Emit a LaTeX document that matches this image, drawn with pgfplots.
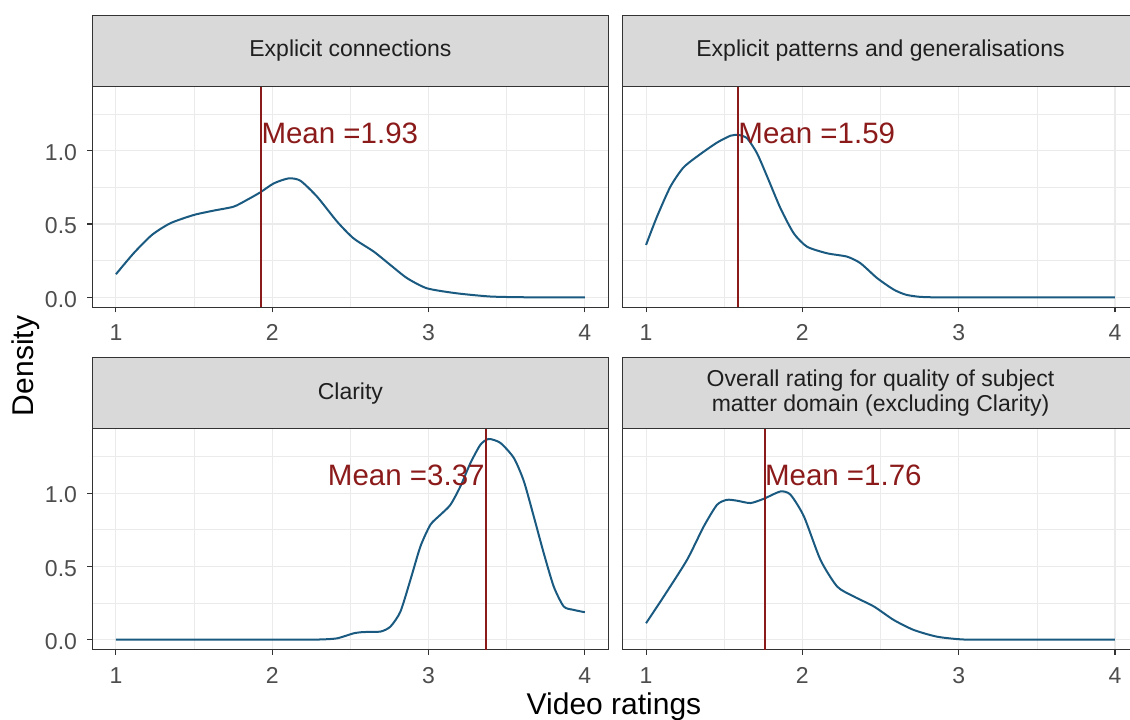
\documentclass[border=0pt]{standalone}
\usepackage{fontspec}
\setmainfont{Liberation Sans}
\usepackage{pgfplots}
\pgfplotsset{compat=1.18}

\definecolor{curve}{HTML}{1A5A80}
\definecolor{meanred}{HTML}{8B1A1A}
\definecolor{gridc}{HTML}{EBEBEB}
\definecolor{framec}{HTML}{333333}
\definecolor{tickc}{HTML}{4D4D4D}
\definecolor{stripc}{HTML}{D9D9D9}

\pgfplotsset{
  facet/.style={
    scale only axis, width=515.8pt, height=220.9pt,
    xmin=0.85, xmax=4.15, ymin=-0.0685, ymax=1.4385,
    xtick={1,2,3,4}, minor xtick={1.5,2.5,3.5},
    ytick={0,0.5,1}, minor ytick={0.25,0.75,1.25},
    grid=both,
    major grid style={gridc, line width=1.1pt},
    minor grid style={gridc, line width=0.55pt},
    axis line style={framec, line width=1.3pt},
    tick align=outside, xtick pos=lower, ytick pos=left,
    major tick length=5pt, minor tick length=0pt,
    tick style={framec, line width=1.1pt},
    /pgf/number format/assume math mode=true,
    ticklabel style={font=\fontsize{23pt}{27pt}\selectfont, text=tickc},
    xticklabel style={yshift=-9pt},
    yticklabel style={xshift=-7pt, yshift=-2pt, /pgf/number format/fixed, /pgf/number format/fixed zerofill, /pgf/number format/precision=1},
  },
  noy/.style={yticklabels={}, ytick style={draw=none}},
}
\tikzset{
  dens/.style={curve, line width=2pt, smooth, tension=0.4},
  meanline/.style={meanred, line width=2pt},
  meanlabel/.style={text=meanred, inner sep=0pt, font=\fontsize{29.5pt}{30pt}\selectfont},
}

\newcommand{\strip}[4]{%
  \draw[framec, line width=1.3pt, fill=stripc] (#1pt,#2pt) rectangle (#3pt,#2pt+71pt);
  \node[align=center, font=\fontsize{23pt}{25pt}\selectfont, text=black!88]
    at ({(#1+#3)/2*1pt},#2pt+35.5pt) {#4};}

\begin{document}
\begin{tikzpicture}
\useasboundingbox (0,0) rectangle (1130pt,720pt);

% top left
\begin{axis}[facet, at={(92.5pt,412.7pt)}, anchor=south west]
\addplot[dens] coordinates {
(1.000,0.157)(1.113,0.300)(1.230,0.425)(1.348,0.505)(1.497,0.561)(1.625,0.591)
(1.753,0.618)(1.838,0.664)(1.924,0.716)(2.010,0.777)(2.105,0.811)(2.180,0.795)
(2.287,0.686)(2.415,0.516)(2.520,0.402)(2.650,0.311)(2.756,0.220)(2.863,0.130)
(2.990,0.061)(3.180,0.027)(3.396,0.005)(3.610,0.000)(3.800,0.000)(4.000,0.000)};
\addplot[meanline] coordinates {(1.93,-0.0685)(1.93,1.4385)};
\node[meanlabel, anchor=west] at (axis cs:1.93,1.12) {Mean =1.93};
\end{axis}

% top right
\begin{axis}[facet, noy, at={(622.6pt,412.7pt)}, anchor=south west]
\addplot[dens] coordinates {
(1.000,0.357)(1.070,0.550)(1.156,0.755)(1.240,0.886)(1.348,0.977)(1.454,1.055)
(1.540,1.102)(1.593,1.107)(1.647,1.084)(1.710,0.982)(1.775,0.823)(1.860,0.607)
(1.945,0.436)(2.030,0.345)(2.158,0.300)(2.286,0.277)(2.372,0.232)(2.479,0.130)
(2.585,0.052)(2.660,0.018)(2.740,0.004)(2.820,0.000)(3.000,0.000)(3.300,0.000)
(3.600,0.000)(4.000,0.000)};
\addplot[meanline] coordinates {(1.59,-0.0685)(1.59,1.4385)};
\node[meanlabel, anchor=west] at (axis cs:1.59,1.12) {Mean =1.59};
\end{axis}

% bottom left
\begin{axis}[facet, at={(92.5pt,70.3pt)}, anchor=south west]
\addplot[dens] coordinates {
(1.000,0.000)(1.400,0.000)(1.800,0.000)(2.100,0.000)(2.300,0.001)(2.415,0.009)
(2.520,0.043)(2.585,0.052)(2.692,0.055)(2.756,0.089)(2.820,0.191)(2.884,0.408)
(2.948,0.636)(3.012,0.784)(3.076,0.852)(3.140,0.920)(3.204,1.046)(3.268,1.205)
(3.332,1.330)(3.385,1.369)(3.460,1.342)(3.546,1.239)(3.610,1.080)(3.673,0.841)
(3.737,0.590)(3.801,0.362)(3.865,0.226)(3.929,0.203)(4.000,0.187)};
\addplot[meanline] coordinates {(3.37,-0.0685)(3.37,1.4385)};
\node[meanlabel, anchor=east] at (axis cs:3.36,1.12) {Mean =3.37};
\end{axis}

% bottom right
\begin{axis}[facet, noy, at={(622.6pt,70.3pt)}, anchor=south west]
\addplot[dens] coordinates {
(1.000,0.112)(1.113,0.294)(1.262,0.544)(1.369,0.772)(1.454,0.920)(1.518,0.954)
(1.582,0.948)(1.668,0.932)(1.753,0.961)(1.860,1.011)(1.924,0.989)(2.010,0.841)
(2.116,0.544)(2.223,0.362)(2.330,0.294)(2.458,0.226)(2.585,0.134)(2.713,0.066)
(2.863,0.020)(3.033,0.001)(3.300,0.000)(3.600,0.000)(4.000,0.000)};
\addplot[meanline] coordinates {(1.76,-0.0685)(1.76,1.4385)};
\node[meanlabel, anchor=west] at (axis cs:1.76,1.12) {Mean =1.76};
\end{axis}

\strip{92.5}{633.6}{608.3}{Explicit connections}
\strip{622.6}{633.6}{1138.4}{Explicit patterns and generalisations}
\strip{92.5}{291.2}{608.3}{Clarity}
\strip{622.6}{291.2}{1138.4}{Overall rating for quality of subject\\matter domain (excluding Clarity)}

\node[rotate=90, anchor=base, font=\fontsize{30pt}{30pt}\selectfont] at (33pt,354pt) {Density};
\node[anchor=base, font=\fontsize{30pt}{30pt}\selectfont] at (614pt,5pt) {Video ratings};
\end{tikzpicture}
\end{document}
